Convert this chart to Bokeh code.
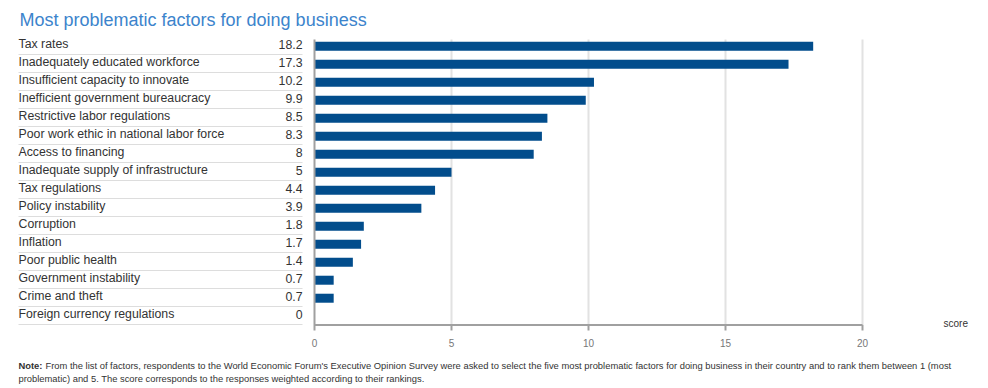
from bokeh.plotting import figure
from bokeh.models import Range1d, ColumnDataSource
from bokeh.core.properties import value
from bokeh.embed import file_html
from bokeh.resources import INLINE

categories = [
    "Tax rates",
    "Inadequately educated workforce",
    "Insufficient capacity to innovate",
    "Inefficient government bureaucracy",
    "Restrictive labor regulations",
    "Poor work ethic in national labor force",
    "Access to financing",
    "Inadequate supply of infrastructure",
    "Tax regulations",
    "Policy instability",
    "Corruption",
    "Inflation",
    "Poor public health",
    "Government instability",
    "Crime and theft",
    "Foreign currency regulations",
]
scores = [18.2, 17.3, 10.2, 9.9, 8.5, 8.3, 8, 5, 4.4, 3.9, 1.8, 1.7, 1.4, 0.7, 0.7, 0]
x_ticks = [0, 5, 10, 15, 20]
title_text = "Most problematic factors for doing business"
x_label = "score"
note_head = "Note:"
note_line1 = ("From the list of factors, respondents to the World Economic Forum's Executive Opinion Survey "
              "were asked to select the five most problematic factors for doing business in their country "
              "and to rank them between 1 (most")
note_line2 = "problematic) and 5. The score corresponds to the responses weighted according to their rankings."

FONT = value("Liberation Sans")
n = len(categories)
rows = list(range(n))

W, H = 980, 388
# layout: pixel -> data mapping helpers (layout only, not data)
PX_PER_UNIT = 27.4
X0_PX = 314
ROW_PX = 18
ROW0_PX = 45


def px_x(px):
    return (px - X0_PX) / PX_PER_UNIT


def px_y(py):
    return (py - ROW0_PX) / ROW_PX


p = figure(width=W, height=H, output_backend="svg", toolbar_location=None,
           x_range=Range1d(px_x(0), px_x(W)), y_range=Range1d(px_y(H), px_y(0)),
           x_axis_location=None, y_axis_location=None,
           min_border=0, min_border_left=0, min_border_right=0,
           min_border_top=0, min_border_bottom=0)
p.outline_line_color = None
p.xgrid.visible = False
p.ygrid.visible = False
p.background_fill_color = "white"
p.border_fill_color = "white"

src = ColumnDataSource(dict(
    y=[r + 0.04 for r in rows],
    ty=[r - 0.06 for r in rows],
    cat=categories,
    score=scores,
    label=[f"{v:g}" for v in scores],
    sep=[r + 0.5 for r in rows],
))

LEFT = px_x(18)
VAL_X = px_x(302)
TOP = px_y(39)
AXIS_Y = px_y(324.5)
grid_ticks = [t for t in x_ticks if t != 0]

# grid lines
p.segment(x0=grid_ticks, x1=grid_ticks, y0=TOP, y1=AXIS_Y, line_color="#e2e2e2", line_width=2)

# bars
p.hbar(y="y", left=0, right="score", height=0.5, source=src, fill_color="#024d8c", line_color=None)

# axis lines
p.segment(x0=0, x1=0, y0=TOP, y1=AXIS_Y, line_color="#a0a0a0", line_width=2)
p.segment(x0=min(x_ticks), x1=max(x_ticks), y0=AXIS_Y, y1=AXIS_Y, line_color="#a0a0a0", line_width=2)
p.segment(x0=x_ticks, x1=x_ticks, y0=AXIS_Y, y1=px_y(330), line_color="#a0a0a0", line_width=2)
p.text(x=x_ticks, y=px_y(342.5), text=[f"{t:g}" for t in x_ticks], text_font=FONT,
       text_font_size="10px", text_color="#777777", text_baseline="middle", text_align="center")
p.text(x=px_x(943), y=px_y(323), text=[x_label], text_font=FONT, text_font_size="10px",
       text_color="#333333", text_baseline="middle", text_align="left")

# table labels, values and separators
p.text(x=LEFT, y="ty", text="cat", source=src, text_font=FONT, text_font_size="12.3px",
       text_color="#333333", text_baseline="middle", text_align="left")
p.text(x=VAL_X, y="ty", text="label", source=src, text_font=FONT, text_font_size="12.3px",
       text_color="#333333", text_baseline="middle", text_align="right")
p.segment(x0=LEFT, x1=VAL_X, y0="sep", y1="sep", source=src, line_color="#dddddd", line_width=1)

# title
p.text(x=px_x(19), y=px_y(19.5), text=[title_text], text_font=FONT, text_font_size="18px",
       text_color="#3c84cc", text_baseline="alphabetic", text_align="left")

# note
p.text(x=LEFT, y=px_y(365), text=[note_head], text_font=FONT, text_font_size="9.4px",
       text_font_style="bold", text_color="#333333", text_baseline="middle", text_align="left")
p.text(x=px_x(45), y=px_y(365), text=[note_line1], text_font=FONT, text_font_size="9.4px",
       text_color="#333333", text_baseline="middle", text_align="left")
p.text(x=LEFT, y=px_y(378), text=[note_line2], text_font=FONT, text_font_size="9.4px",
       text_color="#333333", text_baseline="middle", text_align="left")

open("out.html", "w").write(file_html(p, INLINE))
